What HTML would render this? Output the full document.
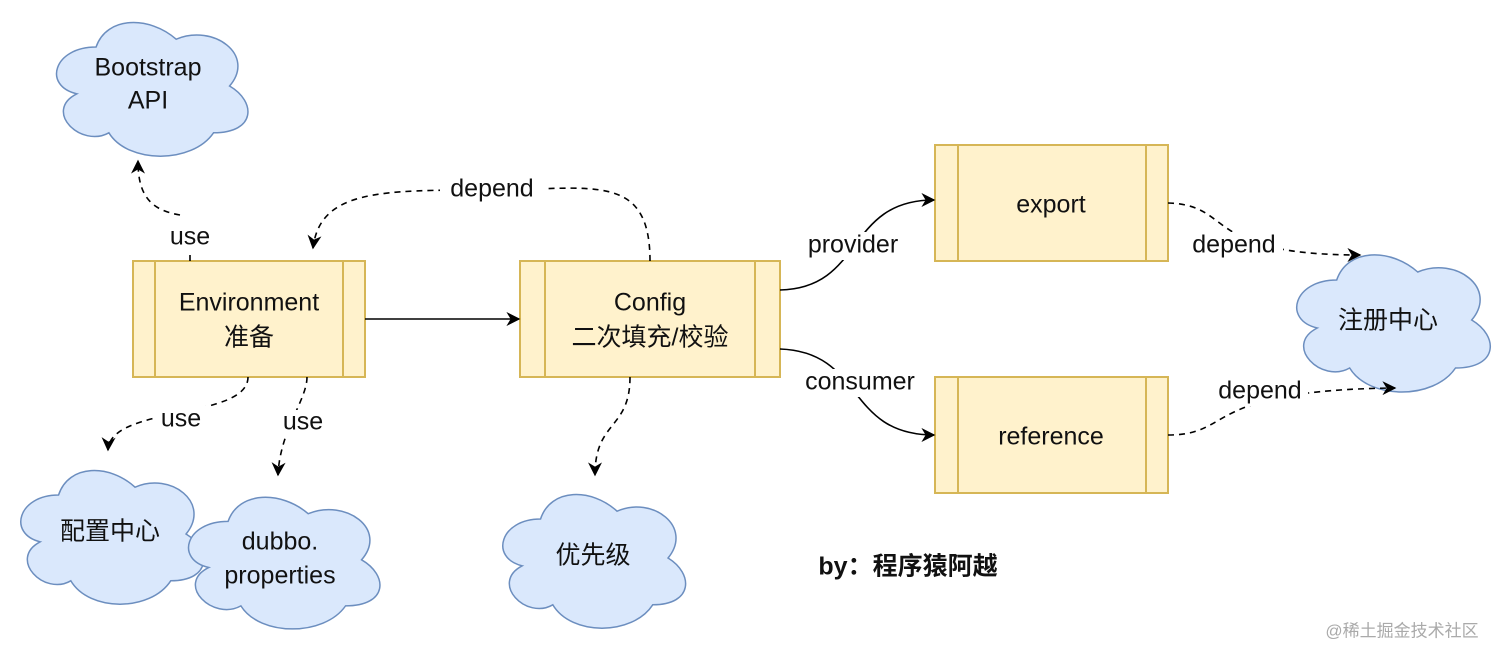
<!DOCTYPE html>
<html><head><meta charset="utf-8"><style>
body{margin:0;background:#fff}
svg text{font-family:"Liberation Sans","Noto Sans CJK SC",sans-serif;font-size:25px;fill:#111;text-anchor:middle;dominant-baseline:middle}
</style></head><body>
<svg width="1512" height="644" viewBox="0 0 1512 644" xmlns="http://www.w3.org/2000/svg">
<defs>
<marker id="a" viewBox="0 0 10 10" refX="9" refY="5" markerWidth="14" markerHeight="14" orient="auto" markerUnits="userSpaceOnUse"><path d="M0 0 L10 5 L0 10 L3 5 Z" fill="#000"/></marker>
</defs>
<g fill="#dae8fc" stroke="#6c8ebf" stroke-width="1.5">
<path vector-effect="non-scaling-stroke" transform="translate(40,8) scale(1.78,1.95)" d="M31.5 20 C7.5 20 1.5 40 20.7 44 C1.5 52.8 23.1 72 38.7 64 C49.5 80 85.5 80 97.5 64 C121.5 64 121.5 48 106.5 40 C121.5 24 97.5 8 76.5 16 C61.5 4 37.5 4 31.5 20 Z"/>
<path vector-effect="non-scaling-stroke" transform="translate(5,456) scale(1.7,1.95)" d="M31.5 20 C7.5 20 1.5 40 20.7 44 C1.5 52.8 23.1 72 38.7 64 C49.5 80 85.5 80 97.5 64 C121.5 64 121.5 48 106.5 40 C121.5 24 97.5 8 76.5 16 C61.5 4 37.5 4 31.5 20 Z"/>
<path vector-effect="non-scaling-stroke" transform="translate(172,483) scale(1.78,1.92)" d="M31.5 20 C7.5 20 1.5 40 20.7 44 C1.5 52.8 23.1 72 38.7 64 C49.5 80 85.5 80 97.5 64 C121.5 64 121.5 48 106.5 40 C121.5 24 97.5 8 76.5 16 C61.5 4 37.5 4 31.5 20 Z"/>
<path vector-effect="non-scaling-stroke" transform="translate(487,480) scale(1.7,1.95)" d="M31.5 20 C7.5 20 1.5 40 20.7 44 C1.5 52.8 23.1 72 38.7 64 C49.5 80 85.5 80 97.5 64 C121.5 64 121.5 48 106.5 40 C121.5 24 97.5 8 76.5 16 C61.5 4 37.5 4 31.5 20 Z"/>
<path vector-effect="non-scaling-stroke" transform="translate(1280,240) scale(1.8,2.0)" d="M31.5 20 C7.5 20 1.5 40 20.7 44 C1.5 52.8 23.1 72 38.7 64 C49.5 80 85.5 80 97.5 64 C121.5 64 121.5 48 106.5 40 C121.5 24 97.5 8 76.5 16 C61.5 4 37.5 4 31.5 20 Z"/>
</g>
<g fill="#fff2cc" stroke="#d6b656" stroke-width="2">
<rect x="133" y="261" width="232" height="116"/><line x1="155" y1="261" x2="155" y2="377"/><line x1="343" y1="261" x2="343" y2="377"/>
<rect x="520" y="261" width="260" height="116"/><line x1="545" y1="261" x2="545" y2="377"/><line x1="755" y1="261" x2="755" y2="377"/>
<rect x="935" y="145" width="233" height="116"/><line x1="958" y1="145" x2="958" y2="261"/><line x1="1146" y1="145" x2="1146" y2="261"/>
<rect x="935" y="377" width="233" height="116"/><line x1="958" y1="377" x2="958" y2="493"/><line x1="1146" y1="377" x2="1146" y2="493"/>
</g>
<g fill="none" stroke="#000" stroke-width="1.6">
<path d="M365 319 L519 319" marker-end="url(#a)"/>
<path d="M780 290 C865 288 845 200 934 200" marker-end="url(#a)"/>
<path d="M780 349 C865 352 845 435 934 435" marker-end="url(#a)"/>
<g stroke-dasharray="6 5">
<path d="M1168 203 C1235 205 1200 255 1360 255" marker-end="url(#a)"/>
<path d="M1168 435 C1235 435 1200 390 1395 388" marker-end="url(#a)"/>
<path d="M650 261 C650 170 590 190 490 190 C380 190 320 190 313 248" marker-end="url(#a)"/>
<path d="M190 261 L190 225 M180 215 C150 210 138 195 138 161" marker-end="url(#a)"/>
<path d="M248 377 C248 420 110 405 108 450" marker-end="url(#a)"/>
<path d="M307 377 C307 400 280 430 278 475" marker-end="url(#a)"/>
<path d="M630 377 C630 430 595 420 595 475" marker-end="url(#a)"/>
</g>
</g>
<g fill="#fff" stroke="none">
<rect x="440" y="176" width="105" height="28"/><rect x="163" y="225" width="55" height="26"/>
<rect x="155" y="406" width="52" height="26"/><rect x="278" y="410" width="52" height="26"/>
<rect x="1183" y="232" width="100" height="28"/><rect x="1208" y="378" width="100" height="28"/>
<rect x="795" y="232" width="118" height="28"/><rect x="795" y="369" width="130" height="28"/>
</g>
<text x="148" y="69">Bootstrap</text><text x="148" y="102">API</text>
<text x="110" y="533">配置中心</text>
<text x="280" y="543">dubbo.</text><text x="280" y="577">properties</text>
<text x="593" y="557">优先级</text>
<text x="1388" y="322">注册中心</text>
<text x="249" y="304">Environment</text><text x="249" y="339">准备</text>
<text x="650" y="304">Config</text><text x="650" y="339">二次填充/校验</text>
<text x="1051" y="206">export</text>
<text x="1051" y="438">reference</text>
<text x="492" y="190">depend</text>
<text x="190" y="238">use</text><text x="181" y="420">use</text><text x="303" y="423">use</text>
<text x="853" y="246">provider</text><text x="860" y="383">consumer</text>
<text x="1234" y="246">depend</text><text x="1260" y="392">depend</text>
<text x="908" y="568" style="font-weight:bold;font-size:25px">by：程序猿阿越</text>
<text x="1402" y="632" style="font-size:17px;fill:#aaa">@稀土掘金技术社区</text>
</svg>
</body></html>
